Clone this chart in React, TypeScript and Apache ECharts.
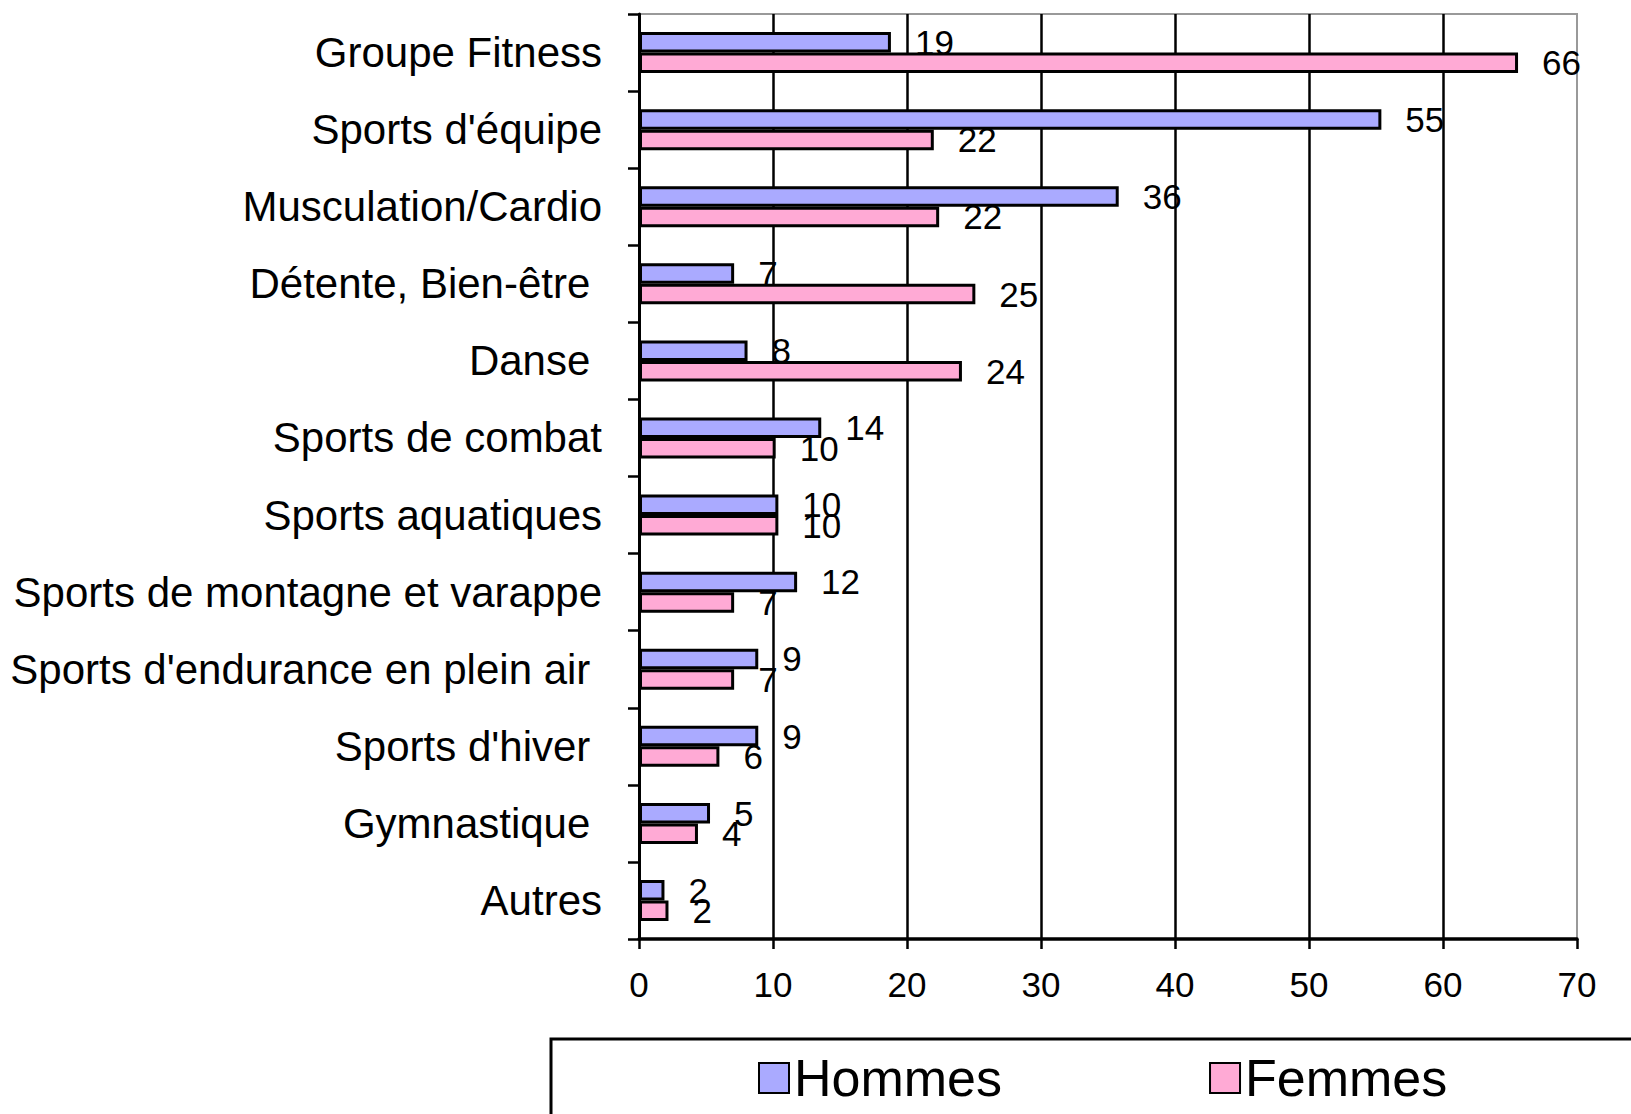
import React, { useEffect, useRef } from "react";
import * as echarts from "echarts";

const categories = [
  "Groupe Fitness",
  "Sports d'équipe",
  "Musculation/Cardio",
  "Détente, Bien-être ",
  "Danse ",
  "Sports de combat",
  "Sports aquatiques",
  "Sports de montagne et varappe",
  "Sports d'endurance en plein air ",
  "Sports d'hiver ",
  "Gymnastique ",
  "Autres",
];

const hommes = [18.8, 55.4, 35.8, 7.1, 8.1, 13.6, 10.4, 11.8, 8.9, 8.9, 5.3, 1.9];
const femmes = [65.6, 22.0, 22.4, 25.1, 24.1, 10.2, 10.4, 7.1, 7.1, 6.0, 4.4, 2.2];

const seriesNames = ["Hommes", "Femmes"];
const xTicks = { min: 0, max: 70, interval: 10 };

const FONT = "'Liberation Sans', Arial, Helvetica, sans-serif";

export default function App() {
  const ref = useRef<HTMLDivElement>(null);

  useEffect(() => {
    document.body.style.margin = "0";
    if (!ref.current) return;
    const chart = echarts.init(ref.current, null, { renderer: "svg" });
    const labelCfg = {
      show: true,
      position: "right" as const,
      distance: 24,
      fontSize: 35,
      color: "#000",
      fontFamily: FONT,
      padding: [3, 0, 0, 0],
      formatter: (p: any) => String(Math.round(p.value)),
    };
    chart.setOption({
      animation: false,
      backgroundColor: "#fff",
      textStyle: { fontFamily: FONT },
      grid: {
        left: 639,
        right: 54,
        top: 14,
        bottom: 175,
        show: true,
        borderColor: "#999",
        borderWidth: 2,
        backgroundColor: "transparent",
      },
      xAxis: {
        type: "value",
        min: xTicks.min,
        max: xTicks.max,
        interval: xTicks.interval,
        axisLine: { show: true, lineStyle: { color: "#000", width: 3.5 } },
        axisTick: { show: true, length: 10, lineStyle: { color: "#000", width: 2.5 } },
        axisLabel: { fontSize: 35, color: "#000", margin: 28, fontFamily: FONT },
        splitLine: { show: true, showMaxLine: false, lineStyle: { color: "#000", width: 2.5 } },
      },
      yAxis: {
        type: "category",
        data: categories,
        inverse: true,
        axisLine: { show: true, lineStyle: { color: "#000", width: 3 } },
        axisTick: { show: true, length: 11, lineStyle: { color: "#000", width: 2.5 } },
        axisLabel: {
          fontSize: 42,
          color: "#000",
          margin: 37,
          fontFamily: FONT,
          padding: [8, 0, 0, 0],
        },
      },
      legend: {
        data: seriesNames,
        left: 758,
        top: 1052,
        padding: 0,
        itemWidth: 30,
        itemHeight: 30,
        itemGap: 207,
        icon: "rect",
        textStyle: { fontSize: 52, color: "#000", fontFamily: FONT },
      },
      graphic: [
        {
          type: "rect",
          shape: { x: 551, y: 1039, width: 1200, height: 200 },
          style: { fill: "none", stroke: "#000", lineWidth: 3 },
          z: -1,
        },
      ],
      series: [
        {
          name: seriesNames[0],
          type: "bar",
          data: hommes,
          barWidth: 20.5,
          barGap: "0%",
          itemStyle: { color: "#AAAAFF", borderColor: "#000", borderWidth: 3 },
          label: labelCfg,
        },
        {
          name: seriesNames[1],
          type: "bar",
          data: femmes,
          barWidth: 20.5,
          barGap: "0%",
          itemStyle: { color: "#FFAAD5", borderColor: "#000", borderWidth: 3 },
          label: labelCfg,
        },
      ],
    });
    return () => chart.dispose();
  }, []);

  return (
    <div
      ref={ref}
      style={{ position: "fixed", left: 0, top: 0, width: 1631, height: 1114 }}
    />
  );
}
